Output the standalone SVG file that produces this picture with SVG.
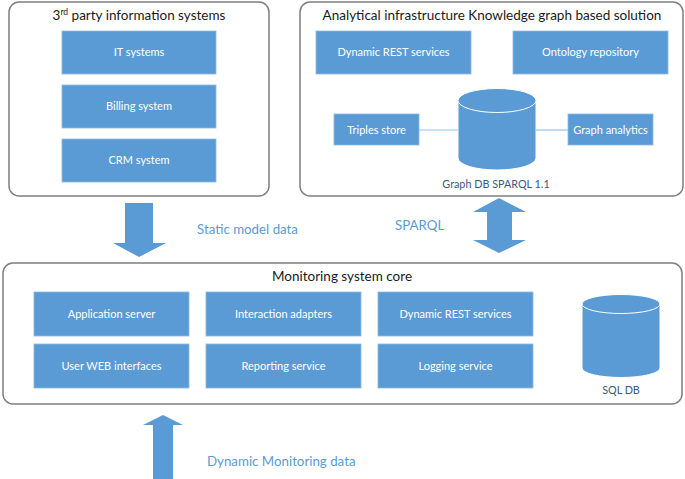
<svg xmlns="http://www.w3.org/2000/svg" width="685" height="479" viewBox="0 0 685 479">
<style>
.cont{fill:#fff;stroke:#7f7f7f;stroke-width:1.5}
.box{fill:#5b9bd5;stroke:#8ab8e6;stroke-width:0.8}
.bt{font-family:Lato,"Open Sans",sans-serif;font-size:11px;fill:#fff;text-anchor:middle}
.title{font-family:Lato,"Open Sans",sans-serif;font-size:13.5px;fill:#1a1a1a;text-anchor:middle}
.lbl{font-family:Lato,"Open Sans",sans-serif;font-size:13.3px;fill:#5b9bd5}
.dbl{font-family:Lato,"Open Sans",sans-serif;font-size:10.8px;fill:#3a5a80;text-anchor:middle}
.arrow{fill:#5b9bd5}
.cyl{fill:#5b9bd5;stroke:#fff;stroke-width:1}
.link{stroke:#9cc3e8;stroke-width:1.2}
</style>

<g id="third-party">
<rect class="cont" x="9" y="2" width="260" height="194" rx="10"/>
<text class="title" x="139" y="20">3<tspan font-size="8.5" dy="-5">rd</tspan><tspan dy="5"> party information systems</tspan></text>
<g id="it-systems"><rect class="box" x="62" y="31" width="154" height="43"/><text class="bt" x="139" y="56">IT systems</text></g>
<g id="billing-system"><rect class="box" x="62" y="85" width="154" height="43"/><text class="bt" x="139" y="110">Billing system</text></g>
<g id="crm-system"><rect class="box" x="62" y="139" width="154" height="43"/><text class="bt" x="139" y="164">CRM system</text></g>
</g>

<g id="analytical">
<rect class="cont" x="300" y="2" width="383" height="194" rx="10"/>
<text class="title" x="492" y="20">Analytical infrastructure Knowledge graph based solution</text>
<g id="dyn-rest-kg"><rect class="box" x="316" y="31" width="155" height="43"/><text class="bt" x="393.5" y="56">Dynamic REST services</text></g>
<g id="ontology"><rect class="box" x="513" y="31" width="155" height="43"/><text class="bt" x="590.5" y="56">Ontology repository</text></g>
<g id="triples"><rect class="box" x="334" y="114" width="85" height="31"/><text class="bt" x="376.5" y="134">Triples store</text></g>
<g id="graph-analytics"><rect class="box" x="568" y="114" width="85" height="31"/><text class="bt" x="610.5" y="134">Graph analytics</text></g>
<g id="graph-db">
<path class="cyl" d="M458 100.5 V158 A39 12 0 0 0 536 158 V100.5 A39 12 0 0 0 458 100.5 Z"/>
<ellipse class="cyl" cx="497" cy="100.5" rx="39" ry="12"/>
<text class="dbl" x="496" y="188">Graph DB SPARQL 1.1</text>
</g>
</g>

<g id="core">
<rect class="cont" x="3" y="263" width="679" height="141" rx="10"/>
<text class="title" x="342" y="281">Monitoring system core</text>
<g id="app-server"><rect class="box" x="34" y="292" width="155" height="44"/><text class="bt" x="111.5" y="318">Application server</text></g>
<g id="interaction"><rect class="box" x="206" y="292" width="155" height="44"/><text class="bt" x="283.5" y="318">Interaction adapters</text></g>
<g id="dyn-rest-core"><rect class="box" x="378" y="292" width="155" height="44"/><text class="bt" x="455.5" y="318">Dynamic REST services</text></g>
<g id="web-ui"><rect class="box" x="34" y="344" width="155" height="44"/><text class="bt" x="111.5" y="370">User WEB interfaces</text></g>
<g id="reporting"><rect class="box" x="206" y="344" width="155" height="44"/><text class="bt" x="283.5" y="370">Reporting service</text></g>
<g id="logging"><rect class="box" x="378" y="344" width="155" height="44"/><text class="bt" x="455.5" y="370">Logging service</text></g>
<g id="sql-db">
<path class="cyl" d="M582 304 V368 A39 9.5 0 0 0 660 368 V304 A39 9.5 0 0 0 582 304 Z"/>
<ellipse class="cyl" cx="621" cy="304" rx="39" ry="9.5"/>
<text class="dbl" x="621" y="394">SQL DB</text>
</g>
</g>

<g id="connectors">
<line class="link" x1="419" y1="130" x2="458" y2="130"/>
<line class="link" x1="536" y1="130" x2="568" y2="130"/>
<polygon class="arrow" points="125,203 153,203 153,243 166,243 139,257 113,243 125,243"/>
<polygon class="arrow" points="499,198 526,212 512,212 512,240 526,240 499,253 473,240 487,240 487,212 473,212"/>
<polygon class="arrow" points="163,415 183,425 173,425 173,479 153,479 153,425 143,425"/>
<text class="lbl" x="197" y="234">Static model data</text>
<text class="lbl" x="395" y="230">SPARQL</text>
<text class="lbl" x="207" y="466">Dynamic Monitoring data</text>
</g>
</svg>
